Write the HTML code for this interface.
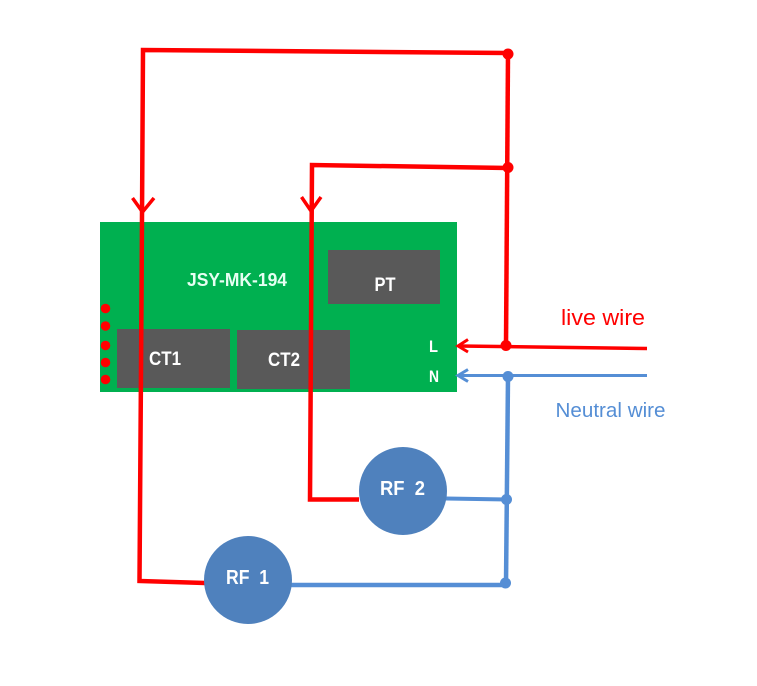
<!DOCTYPE html>
<html>
<head>
<meta charset="utf-8">
<style>
html,body{margin:0;padding:0;background:#fff;width:757px;height:686px;overflow:hidden}
svg{display:block}
.w{font-family:"Liberation Sans",sans-serif;font-weight:bold;fill:#fff}
.l{font-family:"Liberation Sans",sans-serif}
</style>
</head>
<body>
<svg width="757" height="686" viewBox="0 0 757 686" xmlns="http://www.w3.org/2000/svg">
<rect width="757" height="686" fill="#fff"/>
<rect x="100" y="222" width="357" height="170" fill="#00b050"/>
<rect x="117" y="329" width="113" height="59" fill="#595959"/>
<rect x="237" y="330" width="113" height="59" fill="#595959"/>
<rect x="328" y="250" width="112" height="54" fill="#595959"/>
<g fill="#ff0000">
<circle cx="105.500" cy="308.500" r="4.800"/>
<circle cx="105.500" cy="326" r="4.800"/>
<circle cx="105.500" cy="345.500" r="4.800"/>
<circle cx="105.500" cy="362.500" r="4.800"/>
<circle cx="105.500" cy="379.500" r="4.800"/>
</g>
<text class="w" x="187" y="286" font-size="18" textLength="100" lengthAdjust="spacingAndGlyphs" style="fill:#e6fff2">JSY-MK-194</text>
<text class="w" x="149" y="365" font-size="19" textLength="32" lengthAdjust="spacingAndGlyphs">CT1</text>
<text class="w" x="268" y="366" font-size="19" textLength="32" lengthAdjust="spacingAndGlyphs">CT2</text>
<text class="w" x="374.500" y="291" font-size="19" textLength="21" lengthAdjust="spacingAndGlyphs">PT</text>
<text class="w" x="429" y="352" font-size="17" textLength="9" lengthAdjust="spacingAndGlyphs">L</text>
<text class="w" x="429" y="382" font-size="17" textLength="10" lengthAdjust="spacingAndGlyphs">N</text>

<g fill="none" stroke="#ff0000" stroke-linejoin="miter">
<polyline points="508,53 143,50 141.500,300 139.500,581 205,583" stroke-width="4.500"/>
<polyline points="508,168 312,165 310,499.500 359,499.500" stroke-width="4.500"/>
<polyline points="508,53 506,345" stroke-width="4.500"/>
<polyline points="132.500,198 142.500,212 154,198" stroke-width="3.500"/>
<polyline points="301.500,197 311,211 321,197" stroke-width="3.500"/>
<line x1="647" y1="348.500" x2="459" y2="346" stroke-width="3.500"/>
<polyline points="468,339.500 458,346 468,352" stroke-width="3"/>
</g>
<g fill="#ff0000">
<circle cx="508" cy="54" r="5.500"/>
<circle cx="508" cy="167.500" r="5.500"/>
<circle cx="506" cy="345.500" r="5.500"/>
</g>
<g fill="none" stroke="#558ed5">
<line x1="647" y1="375.500" x2="459" y2="375.500" stroke-width="3"/>
<polyline points="468,369.500 458,375.500 468,381.500" stroke-width="3"/>
<polyline points="508,376 506,584" stroke-width="4.500"/>
<line x1="446" y1="498.500" x2="507" y2="499.500" stroke-width="4"/>
<line x1="290" y1="585" x2="506" y2="585" stroke-width="4.500"/>
</g>
<g fill="#558ed5">
<circle cx="508" cy="376.500" r="5.500"/>
<circle cx="506.500" cy="499.500" r="5.500"/>
<circle cx="505.500" cy="583" r="5.500"/>
</g>
<circle cx="403" cy="491" r="44" fill="#4f81bd"/>
<circle cx="248" cy="580" r="44" fill="#4f81bd"/>
<text class="w" x="380" y="495" font-size="20" textLength="45" lengthAdjust="spacingAndGlyphs" xml:space="preserve">RF  2</text>
<text class="w" x="226" y="584" font-size="20" textLength="43" lengthAdjust="spacingAndGlyphs" xml:space="preserve">RF  1</text>
<text class="l" x="561" y="325" font-size="22" fill="#ff0000" textLength="84" lengthAdjust="spacingAndGlyphs">live wire</text>
<text class="l" x="555.500" y="417" font-size="20" fill="#558ed5" textLength="110" lengthAdjust="spacingAndGlyphs">Neutral wire</text>
</svg>
</body>
</html>
